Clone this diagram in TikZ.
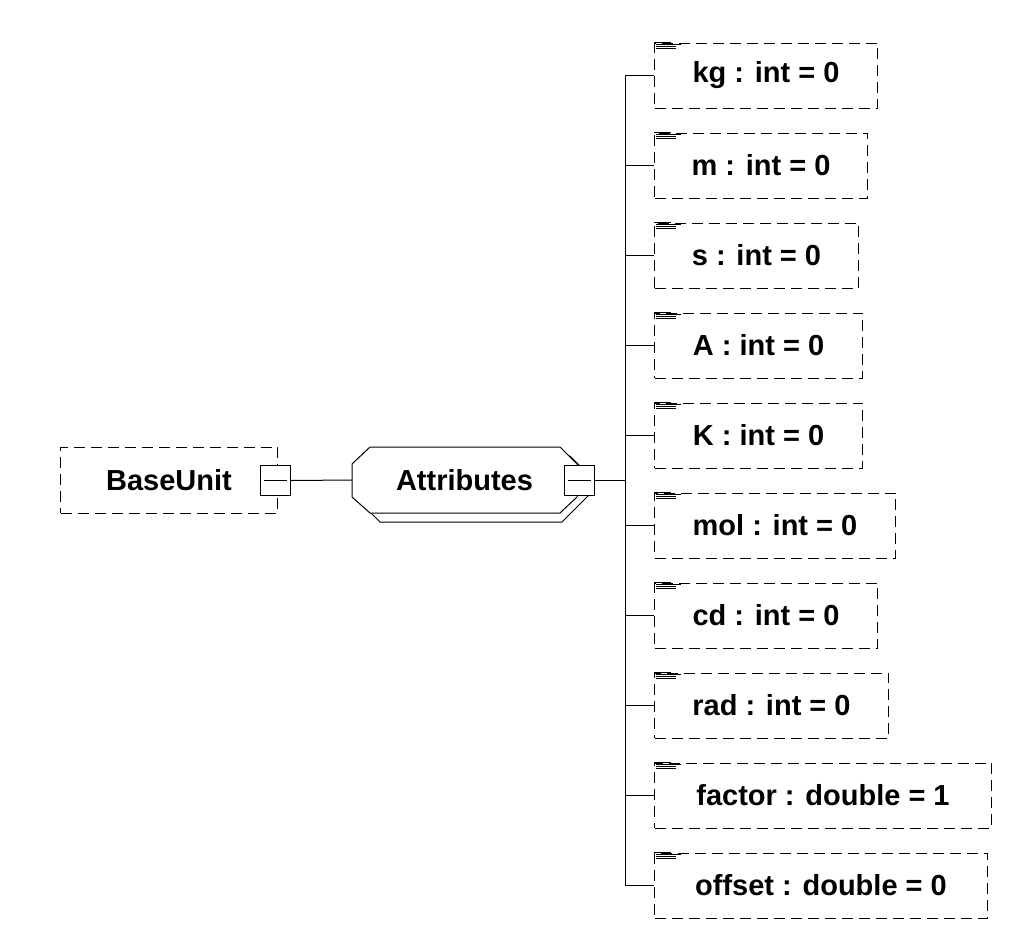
\documentclass[tikz,border=0pt]{standalone}
\usepackage{fontspec}
\setmainfont{Liberation Sans}
\begin{document}
\begin{tikzpicture}[x=1pt,y=-1pt,
  every node/.style={font=\bfseries\fontsize{29}{34}\selectfont, text=black},
  dbox/.style={draw, dash pattern=on 11pt off 6pt, line width=1pt, inner sep=0pt, minimum height=65pt, anchor=west},
  expsq/.style={draw, fill=white, line width=1pt, minimum size=30pt, inner sep=0pt},
  conn/.style={line width=1pt},
  icon/.style={line width=0.8pt}]
\useasboundingbox (0,0) rectangle (1020,930);
% BaseUnit
\node[dbox, minimum width=217pt, minimum height=66pt] (base) at (60,480) {BaseUnit};
% Attributes group (back and front outlines)
\draw[conn, fill=white] (380,456) -- (570,456) -- (588,474) -- (588,496) -- (562,522) -- (380,522) -- (362,504) -- (362,474) -- cycle;
\draw[conn, fill=white] (370,447) -- (560,447) -- (577,464) -- (577,497) -- (560,513) -- (370,513) -- (352,497) -- (352,464) -- cycle;
\node[minimum width=225pt, minimum height=66pt, inner sep=0pt] (att) at (464.5,480) {Attributes};
% expander squares
\node[expsq] (bsq) at (275,480.5) {};
\draw[conn] ([xshift=4pt]bsq.west) -- ([xshift=-4pt]bsq.east);
\node[expsq] (asq) at (579,480.5) {};
\draw[conn] ([xshift=4pt]asq.west) -- ([xshift=-4pt]asq.east);
\draw[conn] (bsq.east) -- (att.west);
% attributes
\foreach \t/\w [count=\i] in {kg : int = 0/223, m : int = 0/213, s : int = 0/204, A : int = 0/208, K : int = 0/208, mol : int = 0/241, cd : int = 0/223, rad : int = 0/234, factor : double = 1/337, offset : double = 0/333}{
  \pgfmathsetmacro\yy{75.5+90*(\i-1)}
  \node[dbox, minimum width=\w pt] (a\i) at (654,\yy) {\t};
  \coordinate (t\i) at (625,\yy);
  \draw[conn] (t\i) -- (a\i.west);
  \draw[conn] (a\i.north west) -- ++(17,0);
  \draw[icon] ([shift={(2,2.2)}]a\i.north west) -- ++(25,0);
  \draw[icon] ([shift={(2,4.2)}]a\i.north west) -- ++(20,0);
  \draw[icon] ([shift={(2,6.2)}]a\i.north west) -- ++(20,0);
}
\coordinate (tm) at (625,480.5);
\draw[conn] (t1) -- (t10);
\draw[conn] (asq.east) -- (tm);
\end{tikzpicture}
\end{document}
